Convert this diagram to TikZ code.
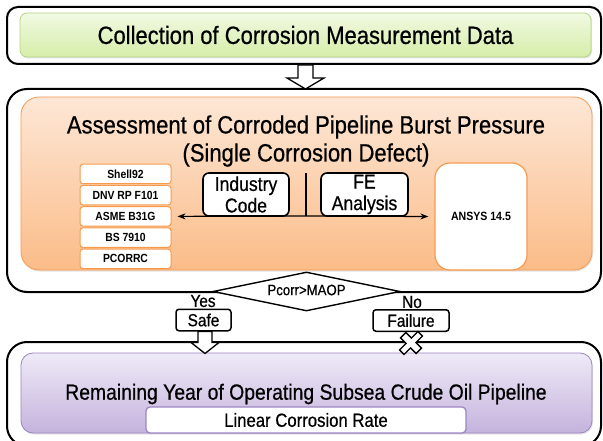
\documentclass[tikz,border=0pt]{standalone}
\usepackage{fontspec}
\setmainfont{Liberation Sans}[FakeStretch=0.88]
\usetikzlibrary{shapes.geometric,arrows.meta,shadows,calc}

\definecolor{grntop}{HTML}{F1F9E2}
\definecolor{grnbot}{HTML}{D6EEA9}
\definecolor{grnline}{HTML}{B4D386}
\definecolor{orgtop}{HTML}{FDE7D6}
\definecolor{orgbot}{HTML}{FBBC88}
\definecolor{orgline}{HTML}{F79A4E}
\definecolor{purtop}{HTML}{EFEAF7}
\definecolor{purbot}{HTML}{C4B3DD}
\definecolor{purline}{HTML}{9C85C2}

\newcommand{\heavy}{\addfontfeature{FakeBold=0.6}}

\begin{document}
\begin{tikzpicture}[x=1pt,y=-1pt,
  frame/.style={draw=black, line width=2pt, fill=white, inner sep=0pt},
  panelshadow/.style={drop shadow={opacity=0.22, shadow xshift=1pt, shadow yshift=-1.5pt}},
  greenpanel/.style={draw=grnline, line width=0.8pt, rounded corners=7pt,
    top color=grntop, bottom color=grnbot, inner sep=0pt, panelshadow},
  orangepanel/.style={draw=orgline, line width=0.8pt, rounded corners=18pt,
    top color=orgtop, bottom color=orgbot, inner sep=0pt, panelshadow},
  purplepanel/.style={draw=purline, line width=0.8pt, rounded corners=12pt,
    top color=purtop, bottom color=purbot, inner sep=0pt, panelshadow},
  bigtext/.style={font=\heavy\fontsize{25}{28}\selectfont},
  listbox/.style={draw=orgline, line width=1pt, fill=white, rounded corners=3pt,
    minimum width=91pt, minimum height=19.5pt, inner sep=0pt,
    font=\bfseries\fontsize{11.8}{12}\selectfont},
  methodbox/.style={draw=black, line width=1.6pt, fill=white, rounded corners=6pt,
    minimum width=86pt, minimum height=43pt, inner sep=0pt, align=center,
    font=\heavy\fontsize{20}{21.5}\selectfont},
  verdict/.style={draw=black, line width=1.5pt, fill=white, rounded corners=3pt,
    minimum height=21.5pt, inner sep=0pt, font=\heavy\fontsize{17.5}{18}\selectfont},
  hollow/.style={draw=black, line width=1.3pt, fill=white, line join=miter},
  tip/.style={-{Stealth[length=8pt,width=6pt]}, line width=1.2pt}
]
\useasboundingbox (0,0) rectangle (603,441);

% ---- stage 1: data collection ----
\node[frame, rounded corners=11pt, minimum width=594pt, minimum height=57pt] (outer1) at (304,35.5) {};
\node[greenpanel, minimum width=571pt, minimum height=44pt] (green) at (305.5,35) {};
\node[bigtext] (collect) at (305.5,35) {Collection of Corrosion Measurement Data};

% ---- stage 2: burst pressure assessment ----
\node[frame, rounded corners=20pt, minimum width=594pt, minimum height=203pt] (outer2) at (304,190.5) {};
\node[orangepanel, minimum width=571pt, minimum height=173pt] (orange) at (306.5,183.5) {};
\node[bigtext] (title1) at (306,127) {Assessment of Corroded Pipeline Burst Pressure};
\node[bigtext] (title2) at (306,155) {(Single Corrosion Defect)};

\node[listbox] (shell) at (125.5,174.0) {Shell92};
\node[listbox] (dnv)   at (125.5,195.2) {DNV RP F101};
\node[listbox] (asme)  at (125.5,216.4) {ASME B31G};
\node[listbox] (bs)    at (125.5,237.6) {BS 7910};
\node[listbox] (pcorr) at (125.5,258.8) {PCORRC};

\node[draw=orgline, line width=1.2pt, fill=white, rounded corners=15pt,
      minimum width=92pt, minimum height=107pt, inner sep=0pt,
      font=\bfseries\fontsize{12}{13}\selectfont] (ansys) at (481,216.5) {ANSYS 14.5};

\node[methodbox] (industry) at (246,194.5) {Industry\\Code};
\node[methodbox, minimum width=87pt] (fe) at (364.5,194.5) {FE\\Analysis};

\coordinate (split) at (306,173);
\coordinate (junction) at (306,216);
\draw[line width=1.6pt] (split) -- (junction);
\draw[tip] (junction) -- ($(asme.east)+(6,0)$);
\draw[tip] (junction) -- ($(ansys.west)+(-6,0)$);

% hollow arrow from stage 1 to stage 2
\draw[hollow] (green.south |- outer1.south) ++(-7.5,0) -- ++(0,13) -- ++(-11,0)
  -- ++(18.5,11) -- ++(18.5,-11) -- ++(-11,0) -- ++(0,-13) -- cycle;

% ---- decision ----
\node[diamond, draw=black, line width=1.4pt, fill=white, inner sep=0pt,
      minimum width=187pt, minimum height=39pt] (check) at (306.5,291.5) {};
\node[font=\heavy\fontsize{15}{16}\selectfont] (checktext) at (306.5,290) {Pcorr>MAOP};

\node[font=\heavy\fontsize{17.5}{18}\selectfont] (yes) at (203,301) {Yes};
\node[font=\heavy\fontsize{17.5}{18}\selectfont] (no) at (412,302) {No};
\node[verdict, minimum width=55pt] (safe) at (203.5,320) {Safe};
\node[verdict, minimum width=76pt] (fail) at (411,320.5) {Failure};

% ---- stage 3: remaining life ----
\node[frame, rounded corners=20pt, minimum width=594pt, minimum height=104pt] (outer3) at (304,394) {};
\node[purplepanel, minimum width=571pt, minimum height=80pt] (purple) at (306.5,393) {};
\node[font=\heavy\fontsize{22}{26}\selectfont] (remain) at (306,394) {Remaining Year of Operating Subsea Crude Oil Pipeline};
\node[draw=purline, line width=1.3pt, fill=white, rounded corners=4pt,
      minimum width=320pt, minimum height=26pt, inner sep=0pt,
      font=\heavy\fontsize{19}{20}\selectfont] (rate) at (306,420) {Linear Corrosion Rate};

% hollow arrow from Safe into stage 3
\draw[hollow] ($(safe.south)+(1.5,0)$) ++(-7,0) -- ++(0,11) -- ++(-7,0)
  -- ++(14,11) -- ++(14,-11) -- ++(-7,0) -- ++(0,-11) -- cycle;

% blocked path below Failure
\coordinate (blocked) at ($(fail.south)+(0,11)$);
\draw[hollow, line width=1.3pt, shift={(blocked)}, rotate=45, yscale=0.85]
  (-3.8,13) -- (3.8,13) -- (3.8,3.8) -- (13,3.8) -- (13,-3.8) -- (3.8,-3.8)
  -- (3.8,-13) -- (-3.8,-13) -- (-3.8,-3.8) -- (-13,-3.8) -- (-13,3.8)
  -- (-3.8,3.8) -- cycle;
\end{tikzpicture}
\end{document}
